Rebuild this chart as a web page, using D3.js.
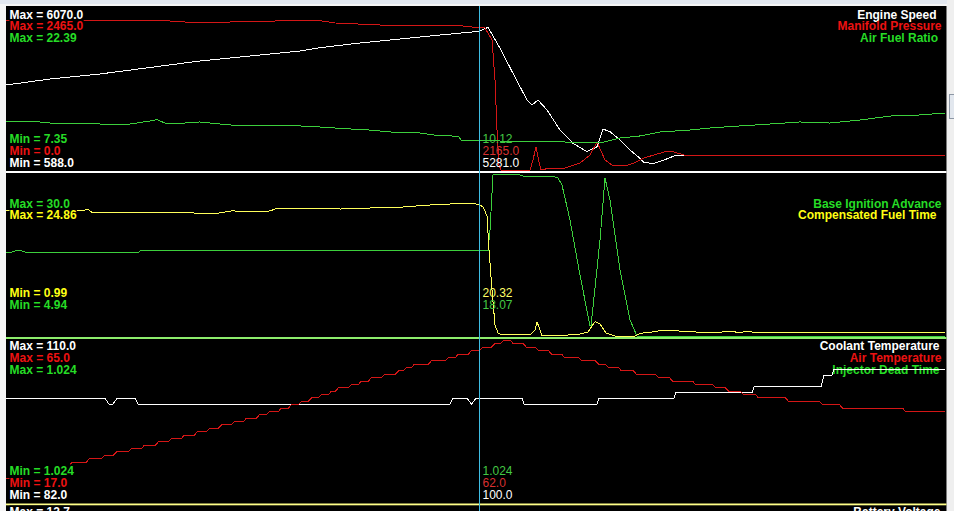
<!DOCTYPE html>
<html><head><meta charset="utf-8">
<script src="https://cdn.jsdelivr.net/npm/d3@7"></script>
<style>html,body{margin:0;padding:0;background:#f4f4f4;overflow:hidden}</style>
</head><body><svg id="c" width="954" height="511"></svg>
<script>
// ---------------- DATA ----------------
const sampleRange = [0, 939];
const cursorSample = 473.5;

// Panel 1
const panel1Names = ["Engine Speed", "Manifold Pressure", "Air Fuel Ratio"];
const panel1Max = [6070.0, 2465.0, 22.39];
const panel1Min = [588.0, 0.0, 7.35];
const panel1Cursor = [5281.0, 2165.0, 10.12];

const engineSpeed = [[0,3464],[44,3667],[94,3837],[144,4057],[194,4277],[244,4446],[294,4615],[314,4727],[354,4886],[394,5021],[434,5156],[473,5281],[482,5417],[494,4706],[507,3860],[521,2957],[526,2788],[532,2957],[541,2618],[554,1942],[567,1492],[581,1207],[591,1376],[597,1975],[604,1884],[614,1603],[624,1265],[634,984],[638,835],[648,815],[658,926],[668,1062],[702,1062],[703,1085],[728,1085],[729,1062],[757,1062],[758,1085],[805,1085],[806,1062],[824,1062],[825,1085],[831,1085],[832,1062],[860,1062],[861,1085],[868,1085],[869,1062],[887,1062],[888,1085],[895,1085],[896,1062],[920,1062],[921,1085],[928,1085],[929,1062],[939,1062]];
const manifoldPressure = [[0,2272],[84,2282],[164,2267],[194,2237],[214,2240],[234,2263],[314,2272],[329,2237],[374,2206],[454,2196],[473,2165],[479,2161],[486,1978],[489,1369],[491,609],[493,76],[495,0],[524,0],[527,152],[530,350],[533,122],[535,0],[544,30],[559,30],[574,107],[584,228],[591,426],[599,152],[606,76],[619,61],[628,107],[638,183],[658,274],[668,274],[678,228],[939,213]];
const airFuelRatio = [[0,11.81],[34,11.81],[54,11.62],[64,11.71],[94,11.62],[124,11.62],[144,11.90],[151,12.02],[159,11.71],[164,11.62],[194,11.81],[224,11.53],[264,11.44],[294,11.44],[314,11.34],[344,11.16],[364,11.06],[384,10.88],[414,10.79],[434,10.51],[446,10.51],[449,10.41],[452,10.51],[456,10.04],[473,10.12],[494,10.04],[524,9.95],[539,10.04],[554,10.04],[564,9.86],[584,9.95],[594,9.86],[614,10.32],[634,10.51],[654,10.88],[684,11.06],[704,11.25],[734,11.44],[764,11.62],[794,11.81],[824,11.71],[854,11.99],[884,12.36],[914,12.46],[939,12.64]];

// Panel 2
const panel2Names = ["Base Ignition Advance", "Compensated Fuel Time"];
const panel2Max = [30.0, 24.86];
const panel2Min = [4.94, 0.99];
const panel2Cursor = [18.07, 20.32];

const baseIgnitionAdvance = [[0,17.93],[6,17.93],[9,18.09],[16,18.09],[19,17.93],[133,17.93],[134,18.09],[482,18.09],[484,21.34],[487,29.84],[489,30.0],[507,30.0],[514,29.84],[520,29.54],[549,29.54],[552,29.38],[556,28.30],[564,22.88],[574,14.38],[584,6.49],[585,6.49],[594,19.79],[599,29.38],[604,25.98],[614,15.15],[624,7.42],[631,4.94],[939,4.94]];
const compensatedFuelTime = [[0,19.41],[74,19.41],[82,19.66],[86,19.22],[134,19.16],[154,19.26],[189,19.11],[209,19.01],[219,19.26],[227,19.45],[234,19.31],[264,19.41],[269,19.70],[294,19.85],[314,19.80],[334,19.70],[354,19.75],[374,19.95],[384,19.85],[414,20.19],[434,20.40],[454,20.48],[470,20.44],[473,20.32],[477,20.04],[481,18.67],[483,13.66],[486,7.77],[489,2.61],[492,1.43],[496,1.14],[524,1.14],[529,1.87],[531,3.10],[534,1.87],[536,1.03],[554,1.03],[574,1.28],[582,1.58],[589,3.10],[594,2.76],[600,1.43],[609,0.99],[629,0.99],[634,1.39],[644,1.54],[658,1.87],[670,1.83],[676,1.62],[704,1.54],[729,1.62],[731,1.48],[739,1.62],[752,1.54],[939,1.54]];

// Panel 3
const panel3Names = ["Coolant Temperature", "Air Temperature", "Injector Dead Time"];
const panel3Max = [110.0, 65.0, 1.024];
const panel3Min = [82.0, 17.0, 1.024];
const panel3Cursor = [100.0, 62.0, 1.024];

const coolantTemperature = [[0,100],[99,100],[103,99],[107,99],[111,100],[129,100],[132,99],[444,99],[447,100],[461,100],[465.5,99],[470,100],[516,100],[518,99],[591,99],[593,100],[668,100],[670,101],[746,101],[748,102],[815,102],[818,104],[826,104],[828,105],[939,105]];
// [sample where the new value starts, value]
const airTemperatureSteps = [[0,24],[13,25],[26,26],[39,27],[52,28],[65,29],[82,30],[97,31],[109,32],[124,33],[137,34],[151,35],[164,36],[177,37],[190,38],[202,39],[214,40],[227,41],[239,42],[252,43],[262,44],[274,45],[284,46],[294,47],[304,48],[314,49],[324,50],[331,51],[344,52],[354,53],[364,54],[377,55],[391,56],[399,57],[407,58],[424,59],[441,60],[451,61],[464,62],[475,63],[487,64],[496,65],[506,64],[519,63],[531,62],[544,61],[557,60],[574,59],[591,58],[601,57],[614,56],[629,55],[651,54],[665,53],[688,52],[708,51],[721,50],[736,49],[751,48],[781,47],[815,46],[835,45],[898,44]];
const injectorDeadTime = [[0,1.024],[939,1.024]];

// Panel 4 (only its header is visible)
const panel4Names = ["Battery Voltage"];
const panel4Max = [12.7];

// ---------------- DRAW ----------------
const svg = d3.select("#c");
const W = 954, H = 511;
const fmt = v => { const s = String(v); return s.includes(".") ? s : s + ".0"; };

const C = {
  white:  {line:"#ffffff", text:"#ffffff", cur:"#ffffff"},
  red:    {line:"#d41616", text:"#ec1212", cur:"#d83030"},
  green:  {line:"#3ccf3c", text:"#26dc26", cur:"#44c844"},
  yellow: {line:"#ffff5a", text:"#ffff14", cur:"#ffff66"}
};

// window chrome
svg.append("rect").attr("x",0).attr("y",0).attr("width",W).attr("height",H).attr("fill","#f6f6f6");
svg.append("rect").attr("x",0).attr("y",0).attr("width",W).attr("height",4).attr("fill","#e3e8f0");
svg.append("rect").attr("x",6).attr("y",6).attr("width",940.5).attr("height",H-6).attr("fill","#000");
svg.append("rect").attr("x",947).attr("y",0).attr("width",7).attr("height",H).attr("fill","#efefef");
svg.append("rect").attr("x",949.5).attr("y",94.5).attr("width",6).attr("height",24).attr("fill","#e2e7ee").attr("stroke","#8d97a5");

const x = d3.scaleLinear().domain(sampleRange).range([6, 945]);

function stepsToPoints(steps, end) {
  const pts = [steps[0]];
  for (let i = 1; i < steps.length; i++) {
    pts.push([steps[i][0] - 1.5, steps[i-1][1]]);
    pts.push([steps[i][0] + 1.5, steps[i][1]]);
  }
  pts.push([end, steps[steps.length-1][1]]);
  return pts;
}

const panels = [
  {names:panel1Names, max:panel1Max, min:panel1Min, cur:panel1Cursor,
   data:[engineSpeed, manifoldPressure, airFuelRatio], colors:["white","red","green"],
   top:8, bot:170, maxY:[18.5,30,41.5], minY:[166.5,154.5,142.5], nameX:[936.5,941.5,938]},
  {names:panel2Names, max:panel2Max, min:panel2Min, cur:panel2Cursor,
   data:[baseIgnitionAdvance, compensatedFuelTime], colors:["green","yellow"],
   top:174, bot:336, maxY:[207.5,219], minY:[309,297], nameX:[941.5,936.5]},
  {names:panel3Names, max:panel3Max, min:panel3Min, cur:panel3Cursor,
   data:[coolantTemperature, stepsToPoints(airTemperatureSteps, sampleRange[1]), injectorDeadTime], colors:["white","red","green"],
   top:340.5, bot:502.5, maxY:[350,362,374], minY:[499,487,475], nameX:[939.5,941.5,939.5]},
  {names:panel4Names, max:panel4Max, min:null, cur:null, data:[], colors:["white"],
   maxY:[516], nameX:[940.5]}
];

const lineLayer = svg.append("g");
const nameLayer = svg.insert("g", () => lineLayer.node());
const sepLayer = svg.append("g");
const labelLayer = svg.append("g");

function label(g, txt, tx, ty, color, anchor, weight, bg) {
  const t = g.append("text").attr("x", tx).attr("y", ty).attr("fill", color)
    .attr("text-anchor", anchor).attr("font-family", "'Liberation Sans', Arial, sans-serif")
    .attr("font-size", 12).attr("font-weight", weight).text(txt);
  if (bg) {
    const b = t.node().getBBox();
    g.insert("rect", () => t.node()).attr("x", b.x).attr("y", ty - 10.5)
      .attr("width", b.width).attr("height", 12.5).attr("fill", "#000");
  }
  return t;
}

panels.forEach(p => {
  p.names.forEach((n, i) => label(nameLayer, n, p.nameX[i], p.maxY[i], C[p.colors[i]].text, "end", "bold", false));
  p.data.forEach((series, i) => {
    const lo = p.min[i], hi = p.max[i];
    const y = lo === hi ? (() => p.top - 3) : d3.scaleLinear().domain([lo, hi]).range([p.bot, p.top]);
    const line = d3.line().x(d => x(d[0])).y(d => y(d[1]));
    lineLayer.append("path").attr("d", line(series)).attr("fill", "none")
      .attr("stroke", C[p.colors[i]].line).attr("stroke-width", 1).attr("shape-rendering", "crispEdges");
  });
  p.max.forEach((v, i) => label(labelLayer, "Max = " + fmt(v), 9.5, p.maxY[i], C[p.colors[i]].text, "start", "bold", true));
  if (p.min) p.min.forEach((v, i) => label(labelLayer, "Min = " + fmt(v), 9.5, p.minY[i], C[p.colors[i]].text, "start", "bold", true));
  if (p.cur) p.cur.forEach((v, i) => label(labelLayer, fmt(v), 482.5, p.minY[i], C[p.colors[i]].cur, "start", "normal", false));
});

// panel separators
sepLayer.append("rect").attr("x",6).attr("y",171).attr("width",940.5).attr("height",2).attr("fill","#ffffff");
sepLayer.append("rect").attr("x",6).attr("y",337).attr("width",940.5).attr("height",2).attr("fill","#8cec6c");
sepLayer.append("rect").attr("x",6).attr("y",503.5).attr("width",940.5).attr("height",1.8).attr("fill","#ffff88");

// cursor
svg.insert("line", () => labelLayer.node()).attr("x1", x(cursorSample)).attr("x2", x(cursorSample))
  .attr("y1", 6).attr("y2", H).attr("stroke", "#3fbde3").attr("stroke-width", 1)
  .attr("shape-rendering", "crispEdges");
</script></body></html>
